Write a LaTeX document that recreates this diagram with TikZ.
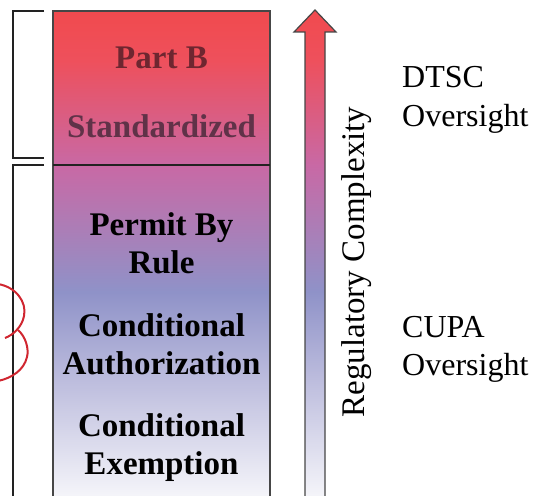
\documentclass[tikz,border=0pt]{standalone}
\usepackage{fontspec}
\setmainfont{Liberation Serif}

% colour ramp of the complexity scale, from low (bottom) to high (top)
\definecolor{rampBottom}{RGB}{246,246,250}
\definecolor{rampLow}{RGB}{190,190,222}
\definecolor{rampBlue}{RGB}{143,146,200}
\definecolor{rampMauve}{RGB}{200,105,165}
\definecolor{rampRose}{RGB}{238,80,92}
\definecolor{rampTop}{RGB}{241,74,78}
\definecolor{inkDark}{RGB}{34,34,34}
\definecolor{edgeGray}{RGB}{70,70,70}
\definecolor{partBInk}{RGB}{110,38,48}
\definecolor{stdInk}{RGB}{96,50,72}
\definecolor{loopRed}{RGB}{208,38,48}

\pgfdeclareverticalshading{complexity}{100bp}{%
  color(0bp)=(rampBottom); color(25bp)=(rampBottom);
  color(36.9bp)=(rampLow); color(46.2bp)=(rampBlue);
  color(59.1bp)=(rampMauve); color(69.9bp)=(rampRose);
  color(75bp)=(rampTop); color(100bp)=(rampTop)}

\begin{document}
\begin{tikzpicture}[x=1pt,y=-1pt,
  bracket/.style={draw=inkDark, line width=2pt},
  boxedge/.style={draw=edgeGray, line width=1.3pt},
  divider/.style={draw=inkDark, line width=2pt},
  tiertext/.style={anchor=base, inner sep=0pt,
    font=\fontsize{33}{38}\selectfont\bfseries},
  sidetext/.style={anchor=base west, inner sep=0pt,
    font=\fontsize{32}{38}\selectfont},
  loop/.style={draw=loopRed, line width=2pt}]

\useasboundingbox (0,0) rectangle (535,495);

% oversight brackets
\draw[bracket] (44,11) -- (12.5,11) -- (12.5,158) -- (44,158);
\draw[bracket] (44,165) -- (12.5,165) -- (12.5,499);

% tier column
\shade[shading=complexity] (53,11) rectangle (270,499);
\draw[boxedge] (53,499) -- (53,11) -- (270,11) -- (270,499);
\draw[divider] (53,165) -- (270,165);

\node[tiertext, text=partBInk] (partb) at (161.5,69) {Part B};
\node[tiertext, text=stdInk] (std) at (161.5,137) {Standardized};
\node[tiertext] (pbr1) at (161.5,235) {Permit By};
\node[tiertext] (pbr2) at (161.5,273) {Rule};
\node[tiertext] (ca1) at (161.5,336) {Conditional};
\node[tiertext] (ca2) at (161.5,374) {Authorization};
\node[tiertext] (ce1) at (161.5,436) {Conditional};
\node[tiertext] (ce2) at (161.5,474) {Exemption};

% complexity arrow
\shade[shading=complexity] (305,499) -- (305,32) -- (294,32) -- (315,10)
  -- (336,32) -- (325,32) -- (325,499) -- cycle;
\draw[boxedge, line width=1.2pt] (305,499) -- (305,32) -- (294,32) -- (315,10)
  -- (336,32) -- (325,32) -- (325,499);

\node[anchor=base, inner sep=0pt, rotate=90,
  font=\fontsize{33}{38}\selectfont] (reg) at (364,262) {Regulatory Complexity};

% oversight labels
\node[sidetext] (dtsc1) at (402,87) {DTSC};
\node[sidetext] (dtsc2) at (402,126) {Oversight};
\node[sidetext] (cupa1) at (402,337) {CUPA};
\node[sidetext] (cupa2) at (402,375) {Oversight};

% red loops on the lower bracket
\draw[loop] (-2,284) .. controls (16,287) and (27,302) .. (24,316)
  .. controls (22,327) and (13,335) .. (5,338);
\draw[loop] (18,330) .. controls (26,337) and (29,349) .. (27,357)
  .. controls (24,370) and (12,378) .. (-2,381);

\end{tikzpicture}
\end{document}
